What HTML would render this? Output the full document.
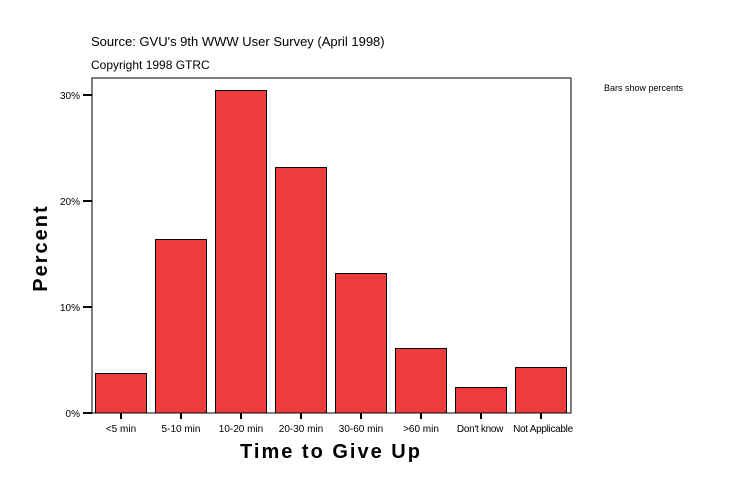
<!DOCTYPE html>
<html><head><style>body{margin:0;background:#fff}svg{display:block}</style></head><body>
<svg width="734" height="496" xmlns="http://www.w3.org/2000/svg" font-family="Liberation Sans, Arial, sans-serif">
<rect width="734" height="496" fill="#fff"/>
<text x="91" y="46" font-size="13">Source: GVU's 9th WWW User Survey (April 1998)</text>
<text x="91" y="69" font-size="12">Copyright 1998 GTRC</text>
<text x="604" y="91" font-size="9">Bars show percents</text>
<rect x="92" y="78" width="479" height="335" fill="#fff" stroke="#000" stroke-width="1"/>
<g fill="#ee3b3b" stroke="#000" stroke-width="1">
<rect x="95.5" y="373.5" width="51" height="39.5"/>
<rect x="155.5" y="239.5" width="51" height="173.5"/>
<rect x="215.5" y="90.5" width="51" height="322.5"/>
<rect x="275.5" y="167.5" width="51" height="245.5"/>
<rect x="335.5" y="273.5" width="51" height="139.5"/>
<rect x="395.5" y="348.5" width="51" height="64.5"/>
<rect x="455.5" y="387.5" width="51" height="25.5"/>
<rect x="515.5" y="367.5" width="51" height="45.5"/>
</g>
<g stroke="#000" stroke-width="2">
<line x1="83" y1="413" x2="92" y2="413"/><line x1="83" y1="307" x2="92" y2="307"/>
<line x1="83" y1="201" x2="92" y2="201"/><line x1="83" y1="95" x2="92" y2="95"/>
<line x1="121" y1="413" x2="121" y2="419"/><line x1="181" y1="413" x2="181" y2="419"/>
<line x1="241" y1="413" x2="241" y2="419"/><line x1="301" y1="413" x2="301" y2="419"/>
<line x1="361" y1="413" x2="361" y2="419"/><line x1="421" y1="413" x2="421" y2="419"/>
<line x1="481" y1="413" x2="481" y2="419"/><line x1="541" y1="413" x2="541" y2="419"/>
</g>
<g font-size="10" text-anchor="end">
<text x="80" y="417">0%</text><text x="80" y="311">10%</text>
<text x="80" y="205">20%</text><text x="80" y="99">30%</text>
</g>
<g font-size="10" text-anchor="middle">
<text x="121" y="432">&lt;5 min</text><text x="181" y="432">5-10 min</text>
<text x="241" y="432">10-20 min</text><text x="301" y="432">20-30 min</text>
<text x="361" y="432">30-60 min</text><text x="421" y="432">&gt;60 min</text>
<text x="480" y="432" letter-spacing="-0.3">Don't know</text><text x="543" y="432" letter-spacing="-0.3">Not Applicable</text>
</g>
<text x="331" y="458" font-size="20" font-weight="bold" text-anchor="middle" letter-spacing="2">Time to Give Up</text>
<text transform="translate(47,248) rotate(-90)" font-size="20" font-weight="bold" text-anchor="middle" letter-spacing="2">Percent</text>
</svg>
</body></html>
